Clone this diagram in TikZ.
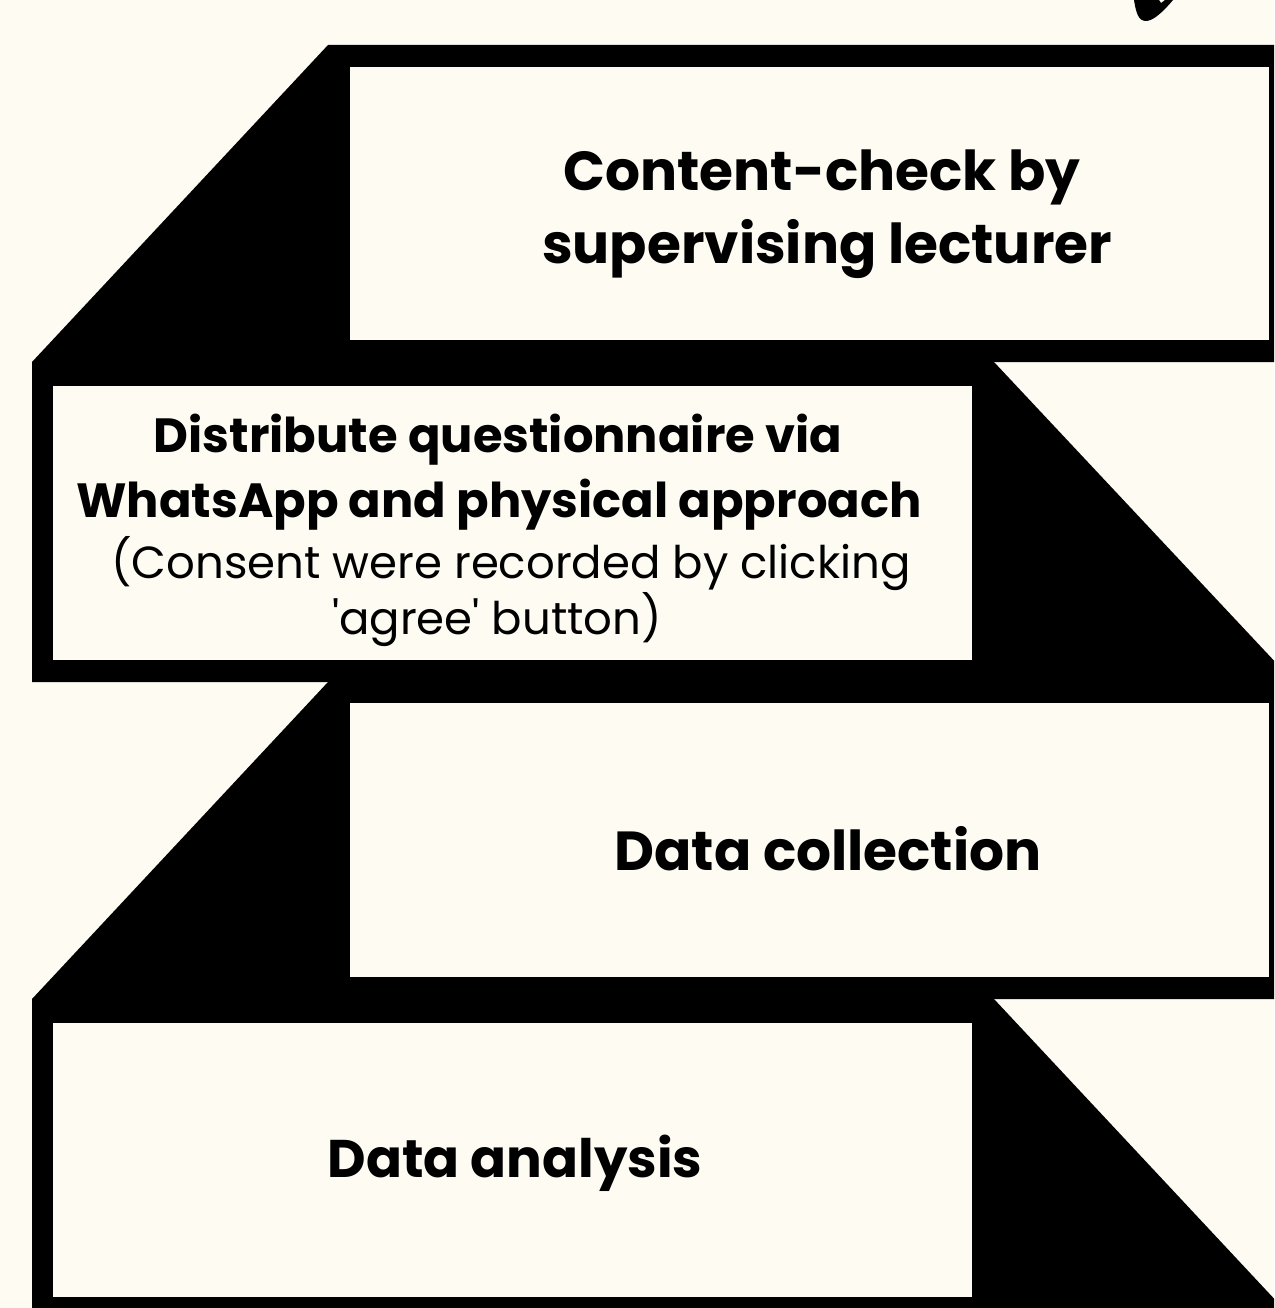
\documentclass[tikz,border=0pt]{standalone}
\usepackage{fontspec}
\setmainfont{Poppins}
\definecolor{paper}{HTML}{FEFBF3}
\tikzset{
  panel/.style={fill=paper, draw=none, inner sep=0pt, anchor=north west},
  head/.style={font=\fontsize{55}{66}\selectfont\bfseries, inner sep=0pt, anchor=base},
  headsmall/.style={font=\fontsize{48}{58}\selectfont\bfseries, inner sep=0pt, anchor=base},
  note/.style={font=\fontsize{45}{54}\selectfont, inner sep=0pt, anchor=base},
}
\begin{document}
\begin{tikzpicture}[x=1pt,y=-1pt]
\fill[paper] (0,0) rectangle (1274,1308);
\useasboundingbox (0,0) rectangle (1274,1308);
\begin{scope}
  \clip (0,0) rectangle (1274,1308);
  % black ribbon frames with chamfered joins
  \fill[black] (328,45) -- (1300,45) -- (1300,362) -- (32,362) -- cycle;
  \fill[black] (32,362) -- (994,362) -- (1294,682) -- (32,682) -- cycle;
  \fill[black] (328,682) -- (1300,682) -- (1300,999) -- (32,999) -- cycle;
  \fill[black] (32,999) -- (994,999) -- (1294,1320) -- (32,1320) -- cycle;
  % stroke tip at the top edge
  \fill[black] (1134,0) .. controls (1136,12) and (1138,21) .. (1146,21)
     .. controls (1153,21) and (1163,12) .. (1173,0) -- (1165,0) -- (1161,3) -- (1159,0) -- cycle;
\end{scope}

% step panels
\node[panel, minimum width=919pt, minimum height=273pt] (s1) at (350,67) {};
\node[panel, minimum width=919pt, minimum height=274pt] (s2) at (53,386) {};
\node[panel, minimum width=919pt, minimum height=274pt] (s3) at (350,703) {};
\node[panel, minimum width=919pt, minimum height=274pt] (s4) at (53,1023) {};

% step texts
\node[head] (t1a) at (822,190) {Content-check by};
\node[head] (t1b) at (827,263) {supervising lecturer};

\node[headsmall] (t2a) at (498,452) {Distribute questionnaire via};
\node[headsmall] (t2b) at (499,517) {WhatsApp and physical approach};
\node[note] (t2c) at (511,578) {(Consent were recorded by clicking};
\node[note] (t2d) at (497,634) {\textquotesingle agree\textquotesingle{} button)};

\node[head] (t3) at (828,870) {Data collection};
\node[head, font=\fontsize{53}{64}\selectfont\bfseries] (t4) at (515,1177) {Data analysis};
\end{tikzpicture}
\end{document}
